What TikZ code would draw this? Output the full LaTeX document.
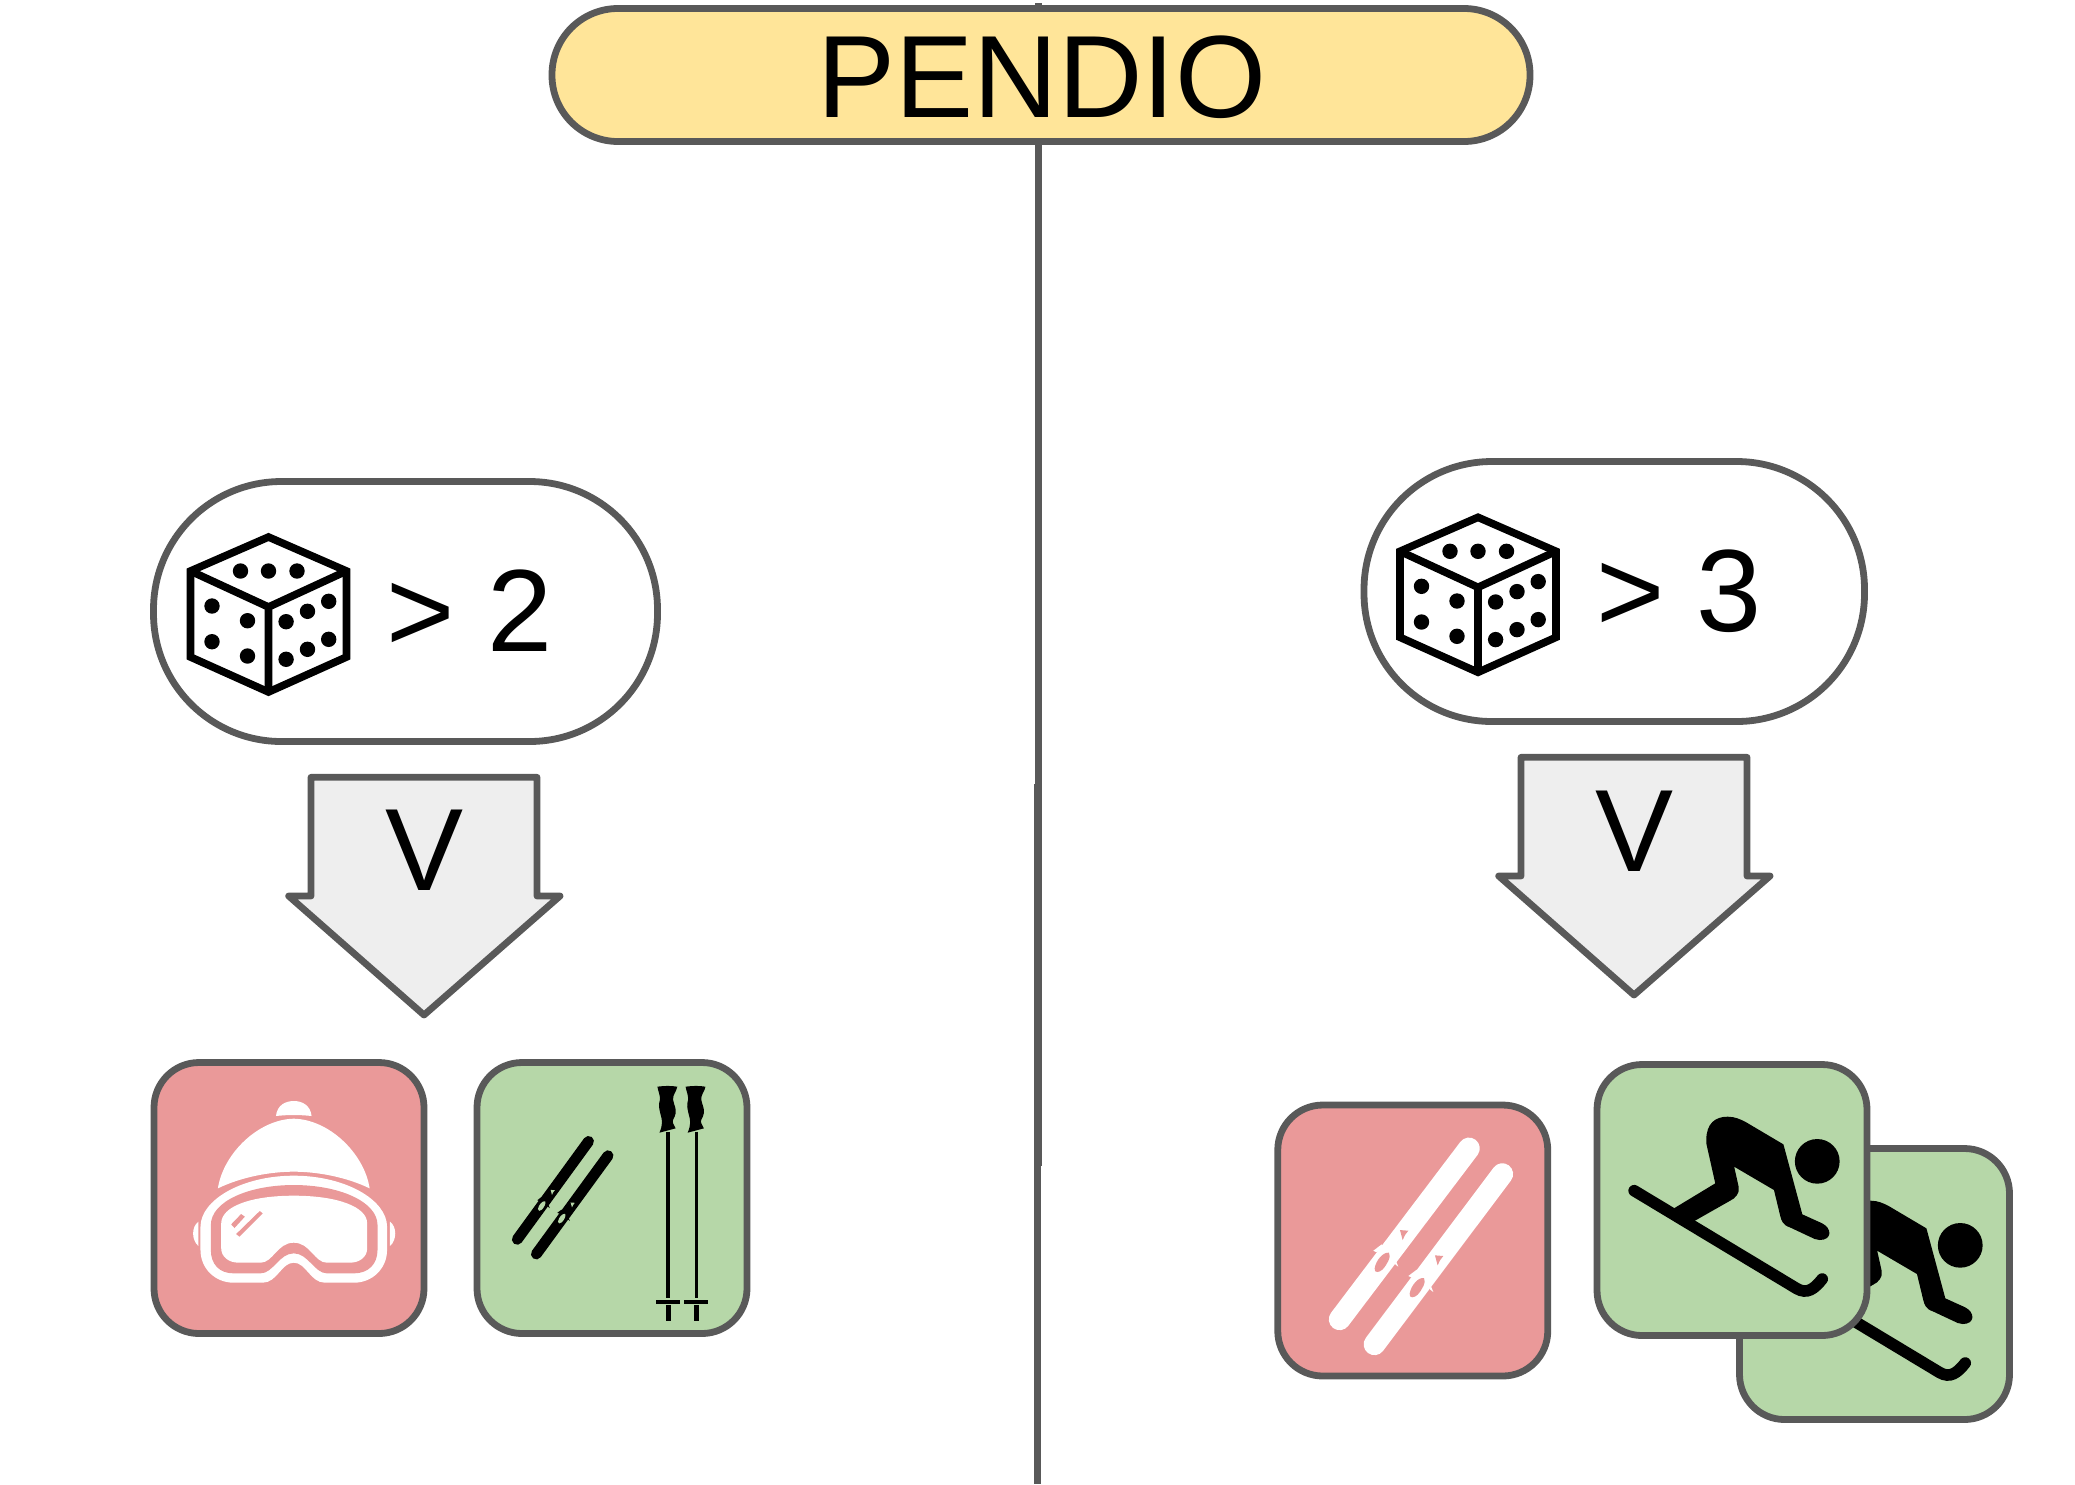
\documentclass[tikz,border=0pt]{standalone}
\usepackage{fontspec}
\setmainfont{Liberation Sans}
\definecolor{gline}{HTML}{595959}
\definecolor{pinkbox}{HTML}{EA9999}
\definecolor{greenbox}{HTML}{B6D7A8}
\definecolor{yellowbox}{HTML}{FFE599}
\definecolor{greyarrow}{HTML}{EEEEEE}
\newcommand{\bigfont}{\fontsize{58.5}{60}\selectfont}
\newcommand{\dicefig}[2]{%
  \begin{scope}[shift={(#1,#2)}]
    \draw[black,line width=3.8pt,line join=miter,fill=white]
      (0,0) -- (78,34) -- (78,120) -- (0,155) -- (-78,120) -- (-78,34) -- cycle;
    \draw[black,line width=3.8pt,line join=round] (-78,34) -- (0,70) -- (78,34) (0,70) -- (0,155);
    \foreach \px/\py in {-28/34,0/34,28.5/34,
        -56.5/69,-21/83.7,-56.5/104.7,-21/119,
        17.6/84.7,39/74.3,60.2/64.3,17.6/122.3,39/112.3,60.2/102.3}
      \fill[black] (\px,\py) circle (7.7);
  \end{scope}}
\newcommand{\skierfig}[2]{%
  \begin{scope}[shift={(1260+#1,1040+#2)},x=.24876pt,y=-.16667pt]
    \fill[black] (897,300) .. controls (897,250) and (915,230) .. (940,230)
      .. controls (955,230) and (965,238) .. (975,245) -- (1052,313) -- (1090,523) -- (1130,550)
      .. controls (1150,565) and (1150,600) .. (1125,600) -- (1115,597) -- (1065,562)
      .. controls (1050,555) and (1048,540) .. (1046,530) -- (1033,450) -- (953,380) -- (962,440)
      .. controls (965,460) and (955,475) .. (945,482) -- (873,543) -- (832,505) -- (915,430) -- (897,310) -- cycle;
    \fill[black] (1120,364) ellipse [x radius=45, y radius=67];
    \draw[black,line width=5.8pt,line cap=round] (752,452) -- (1078,745)
      .. controls (1100,765) and (1115,745) .. (1130,717);
  \end{scope}}
\newcommand{\polefig}[1]{%
  \begin{scope}[xshift=#1*.2073pt]
    \fill[black] (1272,140) .. controls (1290,137) and (1305,137) .. (1320,140)
      .. controls (1318,155) and (1308,165) .. (1310,180)
      .. controls (1312,195) and (1318,205) .. (1316,220)
      .. controls (1314,235) and (1306,240) .. (1310,250)
      -- (1316,265) -- (1277,278)
      .. controls (1285,255) and (1284,240) .. (1280,225)
      .. controls (1276,205) and (1274,195) .. (1278,180)
      .. controls (1279,165) and (1274,155) .. (1272,140) -- cycle;
    \draw[black,line width=1.7pt] (1298,275) -- (1298,775);
    \draw[black,line width=1.8pt] (1269,785) -- (1327,785);
    \draw[black,line width=2.4pt] (1298,795) -- (1298,843);
  \end{scope}}
% ski binding: #1,#2 position of its head, #3 scale, #4 inner colour, #5 colour of the side lugs
\newcommand{\bindingfig}[5]{%
  \begin{scope}[shift={(#1,#2)},x=#3*.16667pt,y=-#3*.16667pt]
    \fill[#4] (-43,63) .. controls (-60,60) and (-82,85) .. (-86,110)
      .. controls (-88,125) and (-72,123) .. (-62,113)
      .. controls (-50,100) and (-35,75) .. (-43,63) -- cycle;
    \fill[#4] (-10,-5) -- (15,-3) -- (5,10) -- (-2,25) -- (-6,10) -- cycle;
    \fill[#5] (-90,57) -- (-65,38) -- (-55,53) -- (-82,61) -- cycle;
    \fill[#5] (-25,80) -- (-15,105) -- (-24,98) -- (-30,85) -- cycle;
  \end{scope}}
\tikzset{
  box/.style={draw=gline,line width=3.4pt,inner sep=0pt,outer sep=0pt,rounded corners=22.5pt,minimum width=135pt,minimum height=135.5pt},
  pillbox/.style={draw=gline,line width=3.4pt,fill=white,inner sep=0pt,outer sep=0pt,rounded corners=64pt,minimum height=130pt},
  bigtext/.style={font=\bigfont,text=black,inner sep=0pt,outer sep=0pt},
  arrowshape/.style={draw=gline,fill=greyarrow,line width=3.4pt,line join=round},
  axisline/.style={draw=gline,line width=3.5pt}
}
\begin{document}
\begin{tikzpicture}[x=.5pt,y=-.5pt]
\useasboundingbox (0,0) rectangle (2075,1484);
\coordinate (axisTopA) at (1038.5,3);
\coordinate (axisBotA) at (1038.5,1166);
\coordinate (axisTopB) at (1037.5,784);
\coordinate (axisBotB) at (1037.5,1484);
\draw[axisline] (axisTopA) -- (axisBotA);
\draw[axisline] (axisTopB) -- (axisBotB);
% title
\node[draw=gline,line width=3.4pt,fill=yellowbox,inner sep=0pt,rounded corners=33pt,minimum width=489pt,minimum height=66.5pt] (title) at (1041,75) {};
\node[bigtext,anchor=base] (titletext) at (1042,117.7) {PENDIO};
% pills
\node[pillbox,minimum width=252pt] (pillL) at (405.5,611.5) {};
\node[pillbox,minimum width=250.25pt] (pillR) at (1614.25,591.5) {};
\dicefig{268.5}{537}
\dicefig{1478}{517.3}
\node[bigtext,anchor=base west] (condL) at (386.6,651.7) {> 2};
\node[bigtext,anchor=base west] (condR) at (1596,631.5) {> 3};
% arrows
\draw[arrowshape] (311,777.3) -- (537,777.3) -- (537,896) -- (560,896) -- (424,1015) -- (288.7,896) -- (311,896) -- cycle;
\draw[arrowshape] (1521,757.3) -- (1747,757.3) -- (1747,876) -- (1770,876) -- (1634,995) -- (1498.7,876) -- (1521,876) -- cycle;
\node[bigtext,anchor=base] (vL) at (424.5,890) {V};
\node[bigtext,anchor=base] (vR) at (1634.5,871) {V};
% left icons
\node[box,fill=pinkbox] (hatbox) at (289,1198) {};
\node[box,fill=greenbox] (gearbox) at (612,1198) {};
\begin{scope}[shift={(130,1040)},x=.2073pt,y=-.16667pt]
  % hat
  \fill[white] (352,228) .. controls (355,195) and (375,183) .. (395,183) .. controls (415,183) and (435,195) .. (438,228)
     .. controls (410,224) and (380,224) .. (352,228) -- cycle;
  \fill[white] (212,445) .. controls (225,340) and (310,238) .. (395,236) .. controls (480,238) and (565,340) .. (578,445)
     .. controls (520,410) and (450,395) .. (395,395) .. controls (340,395) and (270,410) .. (212,445) -- cycle;
  % goggles
  \fill[white] (170,560) .. controls (170,480) and (270,407) .. (395,407) .. controls (520,407) and (620,480) .. (620,560)
     -- (620,630) .. controls (620,685) and (585,728) .. (540,728) -- (470,728)
     .. controls (435,728) and (425,668) .. (395,668) .. controls (365,668) and (355,728) .. (320,728)
     -- (250,728) .. controls (205,728) and (170,685) .. (170,630) -- cycle;
  \fill[pinkbox] (195,555) .. controls (195,485) and (285,435) .. (395,435) .. controls (505,435) and (597,485) .. (597,555)
     -- (597,630) .. controls (597,672) and (575,700) .. (540,700) -- (475,700)
     .. controls (445,700) and (430,640) .. (395,640) .. controls (360,640) and (345,700) .. (315,700)
     -- (250,700) .. controls (215,700) and (195,672) .. (195,630) -- cycle;
  \fill[white] (220,550) .. controls (220,500) and (290,467) .. (395,467) .. controls (500,467) and (572,500) .. (572,550)
     -- (572,625) .. controls (572,650) and (555,668) .. (530,668) -- (475,668)
     .. controls (445,668) and (435,608) .. (395,608) .. controls (355,608) and (345,668) .. (315,668)
     -- (262,668) .. controls (238,668) and (220,650) .. (220,625) -- cycle;
  \fill[pinkbox] (244,553) -- (268,522) -- (277,530) -- (252,564) -- cycle;
  \fill[pinkbox] (256,582) -- (313,513) -- (320,520) -- (264,590) -- cycle;
  \fill[white] (165,545) .. controls (148,560) and (148,600) .. (165,618) -- cycle;
  \fill[white] (627,545) .. controls (644,560) and (644,600) .. (627,618) -- cycle;
  % black skis
  \draw[black,line width=5.4pt,line cap=round] (1106,304) -- (934,598);
  \draw[black,line width=5.4pt,line cap=round] (1153,347) -- (980,642);
  \polefig{0}
  \polefig{68}
\end{scope}
\bindingfig{552.3}{1190.7}{.5}{greenbox}{black}
\bindingfig{572.3}{1203.3}{.5}{greenbox}{black}
% right icons
\node[box,fill=pinkbox] (skibox) at (1412.75,1240.5) {};
\begin{scope}[shift={(1260,1040)},x=.24876pt,y=-.16667pt]
  \draw[white,line width=10.8pt,line cap=round] (420,325) -- (160,838);
  \draw[white,line width=10.8pt,line cap=round] (487,402) -- (230,913);
\end{scope}
\bindingfig{1403.3}{1231.7}{1}{pinkbox}{white}
\bindingfig{1438.3}{1257}{1}{pinkbox}{white}
\node[box,fill=greenbox] (skierback) at (1874.5,1284) {};
\skierfig{143}{84}
\node[box,fill=greenbox] (skierfront) at (1732,1200) {};
\skierfig{0}{0}
\end{tikzpicture}
\end{document}
